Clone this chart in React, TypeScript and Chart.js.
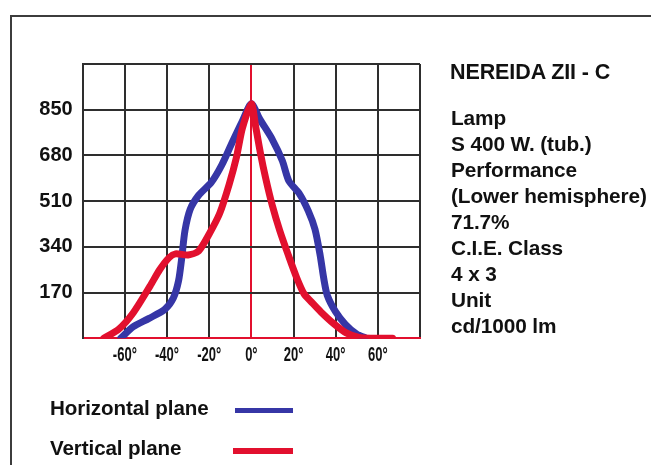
import React, { useEffect, useRef } from "react";
import { Chart, registerables } from "chart.js";

Chart.register(...registerables);

// ---- Data (candela per 1000 lm vs. angle in degrees) ----
const horizontalAngles = [-62, -56, -48.5, -41, -37, -34.5, -33, -31.5, -29, -25, -19, -14, -9, -4.3, 0, 4, 9.9, 14.7, 17.8, 22.6, 27, 30.2, 32.6, 34.4, 36, 40, 44.6, 50, 54];
const horizontalValues = [0, 43, 74, 108, 150, 215, 300, 400, 480, 532, 580, 645, 730, 807, 872, 815, 740, 660, 585, 540, 474, 405, 310, 220, 160, 98, 52, 15, 2];

const verticalAngles = [-70, -63, -56, -48, -43.5, -39, -36, -30, -25, -20, -15, -10.5, -7, -4.3, 0, 2.1, 4.4, 6.8, 9.9, 13.5, 17.5, 21.5, 25, 28.5, 33, 39, 45, 51, 57, 67];
const verticalValues = [0, 33, 95, 195, 255, 300, 314, 310, 325, 388, 465, 573, 675, 780, 872, 785, 685, 595, 495, 400, 310, 225, 165, 135, 98, 55, 20, 3, 0, 0];

const X_TICK_VALUES = [-60, -40, -20, 0, 20, 40, 60];
const X_TICK_LABELS = ["-60°", "-40°", "-20°", "0°", "20°", "40°", "60°"];
const Y_TICK_VALUES = [170, 340, 510, 680, 850];
const Y_TICK_LABELS = ["170", "340", "510", "680", "850"];

const SERIES_NAMES = ["Horizontal plane", "Vertical plane"];
const INFO_TITLE = "NEREIDA ZII - C";
const INFO_LINES = ["Lamp", "S 400 W. (tub.)", "Performance", "(Lower hemisphere)", "71.7%", "C.I.E. Class", "4 x 3", "Unit", "cd/1000 lm"];

const BLUE = "#3636a6";
const RED = "#e2102e";
const GRID = "#2e2e2e";
const TEXT = "#111111";
const FONT = '"Liberation Sans", Arial, sans-serif';

const condensedXLabels = {
  id: "condensedXLabels",
  afterDraw(chart: any) {
    const sx = chart.scales.x;
    const ctx = chart.ctx;
    ctx.save();
    ctx.font = `bold 21px ${FONT}`;
    ctx.fillStyle = TEXT;
    ctx.textAlign = "center";
    ctx.textBaseline = "middle";
    X_TICK_VALUES.forEach((v, i) => {
      const x = sx.getPixelForValue(v);
      const y = chart.chartArea.bottom + 17;
      ctx.save();
      ctx.translate(x, y);
      ctx.scale(0.62, 1);
      ctx.fillText(X_TICK_LABELS[i], 0, 0);
      ctx.restore();
    });
    ctx.restore();
  },
};

export default function App() {
  const ref = useRef<HTMLCanvasElement>(null);

  useEffect(() => {
    if (!ref.current) return;
    const hPts = horizontalAngles.map((a, i) => ({ x: a, y: horizontalValues[i] }));
    const vPts = verticalAngles.map((a, i) => ({ x: a, y: verticalValues[i] }));
    const chart = new Chart(ref.current, {
      type: "scatter",
      data: {
        datasets: [
          {
            label: SERIES_NAMES[1],
            data: vPts,
            showLine: true,
            borderColor: RED,
            backgroundColor: RED,
            borderWidth: 7,
            pointRadius: 0,
            tension: 0.25,
            borderCapStyle: "round",
            borderJoinStyle: "round",
          },
          {
            label: SERIES_NAMES[0],
            data: hPts,
            showLine: true,
            borderColor: BLUE,
            backgroundColor: BLUE,
            borderWidth: 7,
            pointRadius: 0,
            tension: 0.25,
            borderCapStyle: "round",
            borderJoinStyle: "round",
          },
        ],
      },
      options: {
        animation: false,
        responsive: false,
        maintainAspectRatio: false,
        layout: { padding: { left: 0, top: 64, right: 231, bottom: 86.7 } },
        plugins: { legend: { display: false }, title: { display: false }, tooltip: { enabled: false } },
        scales: {
          x: {
            type: "linear",
            min: -80,
            max: 80,
            ticks: { stepSize: 20, display: false },
            grid: {
              drawTicks: false,
              lineWidth: 2,
              color: (c: any) => (c.tick && c.tick.value === 0 ? RED : GRID),
            },
            border: { display: true, color: RED, width: 2 },
            afterFit: (s: any) => {
              s.height = 40;
            },
          },
          y: {
            type: "linear",
            min: 0,
            max: 1020,
            ticks: {
              stepSize: 170,
              padding: 10,
              color: TEXT,
              font: { family: FONT, size: 20, weight: "bold" },
              callback: (v: any) => {
                const i = Y_TICK_VALUES.indexOf(Number(v));
                return i >= 0 ? Y_TICK_LABELS[i] : "";
              },
            },
            grid: {
              drawTicks: false,
              lineWidth: 2,
              color: (c: any) => (c.tick && c.tick.value === 0 ? RED : GRID),
            },
            border: { display: true, color: GRID, width: 2 },
            afterFit: (s: any) => {
              s.width = 82.7;
            },
          },
        },
      },
      plugins: [condensedXLabels],
    });
    return () => chart.destroy();
  }, []);

  const textStyle: React.CSSProperties = {
    position: "absolute",
    fontFamily: FONT,
    fontWeight: "bold",
    fontSize: "20.8px",
    color: TEXT,
    whiteSpace: "nowrap",
    letterSpacing: "-0.1px",
  };

  return (
    <div style={{ position: "absolute", left: 0, top: 0, width: 651, height: 465, overflow: "hidden", background: "#fff" }}>
      <div
        style={{
          position: "absolute",
          left: 10,
          top: 15,
          width: 700,
          height: 500,
          borderLeft: "2px solid #3c3c3c",
          borderTop: "2px solid #3c3c3c",
        }}
      />
      <canvas ref={ref} width={651} height={465} style={{ position: "absolute", left: 0, top: 0 }} />
      <div style={{ ...textStyle, fontSize: "21.5px", left: 450, top: 59, lineHeight: "26px" }}>{INFO_TITLE}</div>
      <div style={{ ...textStyle, left: 451, top: 105, lineHeight: "26px" }}>
        {INFO_LINES.map((l, i) => (
          <div key={i}>{l}</div>
        ))}
      </div>
      <div style={{ ...textStyle, fontSize: "20.6px", left: 50, top: 396, lineHeight: "24px" }}>{SERIES_NAMES[0]}</div>
      <div style={{ ...textStyle, fontSize: "20.6px", left: 50, top: 436, lineHeight: "24px" }}>{SERIES_NAMES[1]}</div>
      <div style={{ position: "absolute", left: 235, top: 408, width: 58, height: 5, background: BLUE }} />
      <div style={{ position: "absolute", left: 233, top: 448, width: 60, height: 6, background: RED }} />
    </div>
  );
}
